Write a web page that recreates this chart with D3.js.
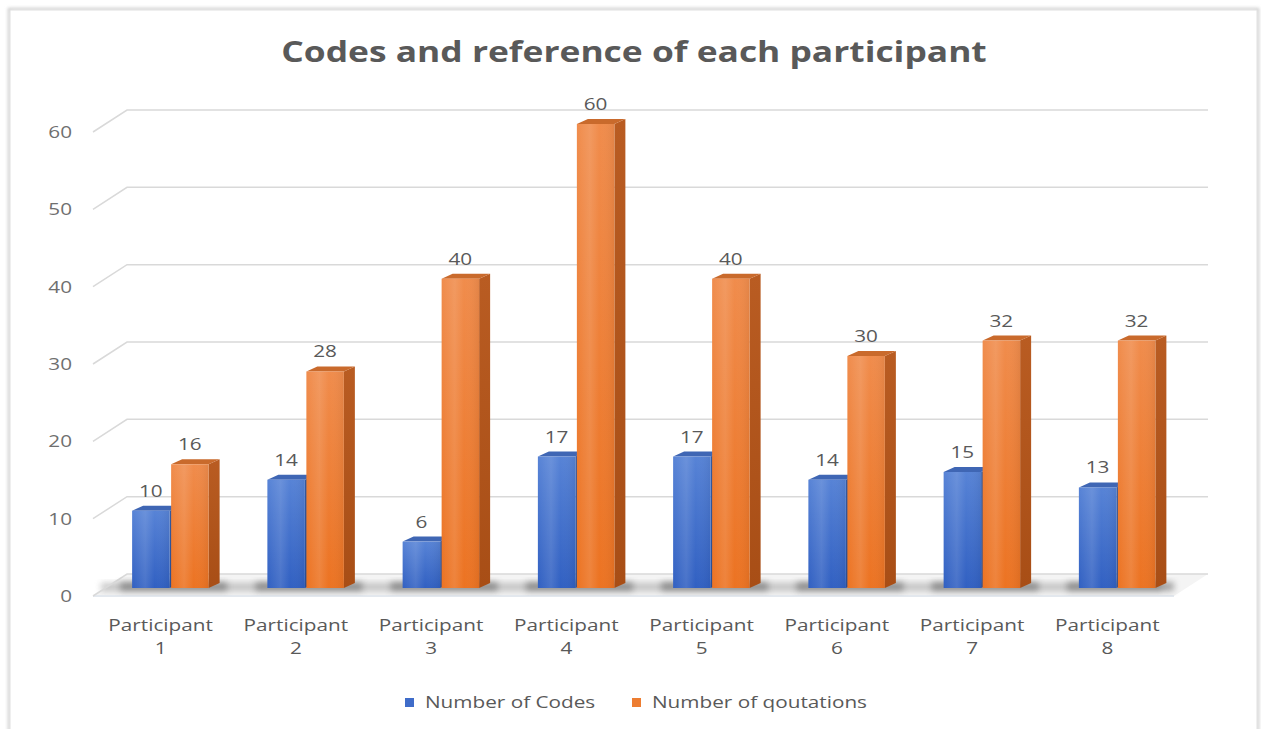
<!DOCTYPE html>
<html>
<head>
<meta charset="utf-8">
<script src="https://cdn.jsdelivr.net/npm/d3@7/dist/d3.min.js"></script>
<style>
  html, body { margin: 0; padding: 0; background: #ffffff; }
  svg { display: block; font-family: "Open Sans", "Noto Sans", sans-serif; }
</style>
</head>
<body>
<svg id="chart" width="1261" height="729"></svg>
<script>
// Chart data
const categories = ["Participant 1", "Participant 2", "Participant 3", "Participant 4",
                    "Participant 5", "Participant 6", "Participant 7", "Participant 8"];
const numberOfCodes = [10, 14, 6, 17, 17, 14, 15, 13];
const numberOfQuotations = [16, 28, 40, 60, 40, 30, 32, 32];
const seriesNames = ["Number of Codes", "Number of qoutations"];
const yTicks = [0, 10, 20, 30, 40, 50, 60];
const titleText = "Codes and reference of each participant";

const svg = d3.select("#chart");
const defs = svg.append("defs");

// Text is drawn slightly widened, like the wide UI face the chart was set in.
const TEXT_SX = 1.22;
function addText(parent, x, y, str, opts) {
  const o = Object.assign({ anchor: "start", size: 17, weight: 400, fill: "#595959" }, opts || {});
  const holder = parent.append("g").attr("transform", `translate(${x},${y}) scale(${TEXT_SX},1)`);
  return holder.append("text").attr("x", 0).attr("y", 0)
    .attr("text-anchor", o.anchor).attr("font-size", o.size)
    .attr("font-weight", o.weight).attr("fill", o.fill).text(str);
}

// ---- gradients & filters ----
function vGrad(id, top, bottom) {
  const g = defs.append("linearGradient").attr("id", id)
    .attr("x1", 0).attr("y1", 0).attr("x2", 0).attr("y2", 1);
  g.append("stop").attr("offset", "0%").attr("stop-color", top);
  g.append("stop").attr("offset", "100%").attr("stop-color", bottom);
}
function hGrad(id, stops) {
  const g = defs.append("linearGradient").attr("id", id)
    .attr("x1", 0).attr("y1", 0).attr("x2", 1).attr("y2", 0);
  stops.forEach(s => g.append("stop").attr("offset", s[0]).attr("stop-color", s[1]).attr("stop-opacity", s[2] == null ? 1 : s[2]));
}
vGrad("blueFront", "#5783d6", "#3160c2");
vGrad("orangeFront", "#f08c4c", "#ec7322");
vGrad("blueSide", "#34599f", "#2a4d92");
vGrad("orangeSide", "#b95c22", "#a84e16");
hGrad("sheen", [["0%", "#ffffff", 0.0], ["35%", "#ffffff", 0.12], ["60%", "#ffffff", 0.0], ["100%", "#000000", 0.06]]);

const soft = defs.append("filter").attr("id", "soft").attr("x", "-20%").attr("y", "-50%").attr("width", "140%").attr("height", "200%");
soft.append("feGaussianBlur").attr("stdDeviation", 3);
const frameShadow = defs.append("filter").attr("id", "frameShadow").attr("x", "-5%").attr("y", "-5%").attr("width", "110%").attr("height", "110%");
frameShadow.append("feGaussianBlur").attr("stdDeviation", 1.5);

// ---- outer frame ----
svg.append("rect").attr("x", 9).attr("y", 9).attr("width", 1249).attr("height", 740)
  .attr("fill", "none").attr("stroke", "#cfcfcf").attr("stroke-width", 2.5).attr("filter", "url(#frameShadow)");
svg.append("rect").attr("x", 10).attr("y", 10).attr("width", 1247).attr("height", 740)
  .attr("fill", "#ffffff").attr("stroke", "#e0e0e0").attr("stroke-width", 1);

// ---- scales ----
const x0 = d3.scaleBand().domain(categories).range([103, 1185]).paddingInner(0).paddingOuter(0);
const x1 = d3.scaleBand().domain([0, 1]).range([0, 77]).padding(0);
const groupOffset = (x0.bandwidth() - 77) / 2;

const yBar = d3.scaleLinear().domain([0, 60]).range([588, 124]);   // bar front faces
const yBack = d3.scaleLinear().domain([0, 60]).range([574, 110]);  // back wall
const depthX = -34, depthY = 22;                                   // back wall -> front edge
const wallLeft = 127, wallRight = 1208;
const barDX = 11, barDY = -5;                                      // bar depth

// ---- title ----
addText(svg, 634, 62, titleText, { anchor: "middle", size: 29, weight: 700 });

// ---- floor ----
const g = svg.append("g");
const y0b = yBack(0);
g.append("path")
  .attr("d", `M${wallLeft},${y0b} L${wallRight},${y0b} L${wallRight + depthX},${y0b + depthY} L${wallLeft + depthX},${y0b + depthY} Z`)
  .attr("fill", "#f4f4f4");
g.append("rect").attr("x", wallLeft + depthX + 8).attr("y", yBar(0) - 5).attr("width", wallRight - wallLeft - 20).attr("height", 8)
  .attr("fill", "#9a9a9a").attr("opacity", 0.55).attr("filter", "url(#soft)");
g.append("line").attr("x1", wallLeft + depthX).attr("x2", wallRight + depthX)
  .attr("y1", y0b + depthY).attr("y2", y0b + depthY)
  .attr("stroke", "#e3e8ee").attr("stroke-width", 2);

// ---- gridlines on back wall with slanted left side ----
yTicks.forEach(v => {
  const yy = yBack(v);
  g.append("path")
    .attr("d", `M${wallLeft + depthX},${yy + depthY} L${wallLeft},${yy} L${wallRight},${yy}`)
    .attr("fill", "none").attr("stroke", "#d9d9d9").attr("stroke-width", 1.5);
  addText(svg, 72, yy + depthY + 6, v, { anchor: "end", size: 17, fill: "#6f6f6f" });
});

// ---- bars ----
const series = [
  { name: seriesNames[0], values: numberOfCodes, front: "url(#blueFront)", side: "url(#blueSide)", top: "#3f66b4" },
  { name: seriesNames[1], values: numberOfQuotations, front: "url(#orangeFront)", side: "url(#orangeSide)", top: "#c96a2c" }
];

const barW = x1.bandwidth() - 1;
categories.forEach((cat, i) => {
  const gx = x0(cat) + groupOffset;
  // floor shadow under the group
  g.append("rect").attr("x", gx - 12).attr("y", yBar(0) - 6).attr("width", 77 + 30).attr("height", 9)
    .attr("fill", "#555").attr("opacity", 0.5).attr("filter", "url(#soft)");
  series.forEach((s, si) => {
    const v = s.values[i];
    const xl = gx + x1(si) + (si === 1 ? 0.5 : 0);
    const xr = xl + barW;
    const yt = yBar(v), yb = yBar(0);
    const bg = g.append("g");
    // side face
    bg.append("path").attr("d", `M${xr},${yt} L${xr + barDX},${yt + barDY} L${xr + barDX},${yb + barDY} L${xr},${yb} Z`)
      .attr("fill", s.side);
    // top face
    bg.append("path").attr("d", `M${xl},${yt} L${xl + barDX},${yt + barDY} L${xr + barDX},${yt + barDY} L${xr},${yt} Z`)
      .attr("fill", s.top);
    // front face
    bg.append("rect").attr("x", xl).attr("y", yt).attr("width", barW).attr("height", yb - yt)
      .attr("fill", s.front);
    bg.append("rect").attr("x", xl).attr("y", yt).attr("width", barW).attr("height", yb - yt)
      .attr("fill", "url(#sheen)");
    // value label
    addText(svg, (xl + xr) / 2, yt - 14, v, { anchor: "middle", size: 17 });
  });
  // category label (two lines)
  const parts = cat.split(" ");
  const cx = x0(cat) + x0.bandwidth() / 2 - 10;
  addText(svg, cx, 631, parts[0], { anchor: "middle", size: 17 });
  addText(svg, cx, 654, parts[1], { anchor: "middle", size: 17 });
});

// ---- legend ----
const legend = svg.append("g");
const legendItems = [
  { name: seriesNames[0], color: "#3f6cc9", x: 405 },
  { name: seriesNames[1], color: "#ed7d31", x: 632 }
];
legendItems.forEach(d => {
  legend.append("rect").attr("x", d.x).attr("y", 698).attr("width", 9).attr("height", 9).attr("fill", d.color);
  addText(legend, d.x + 20, 708, d.name, { size: 17 });
});
</script>
</body>
</html>
